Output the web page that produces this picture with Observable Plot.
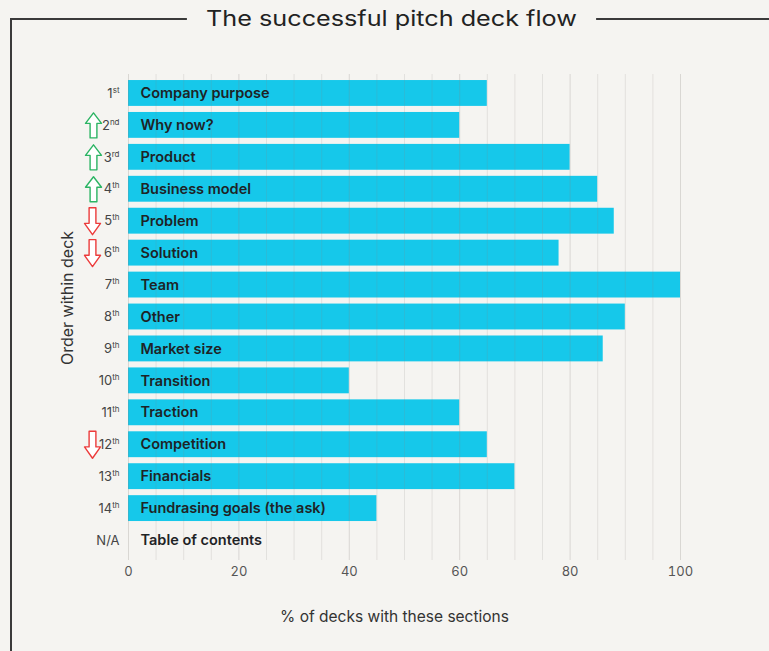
<!DOCTYPE html>
<html><head><meta charset="utf-8">
<script src="https://cdn.jsdelivr.net/npm/d3@7"></script>
<script src="https://cdn.jsdelivr.net/npm/@observablehq/plot@0.6"></script>
<style>
html,body{margin:0;padding:0;background:#f5f4f1;}
#wrap{position:relative;width:769px;height:651px;background:#f5f4f1;overflow:hidden;font-family:Inter,sans-serif;}
#frame{position:absolute;left:10px;top:18px;width:800px;height:700px;border-left:2.5px solid #3a3a3a;border-top:2.5px solid #3a3a3a;}
#title{position:absolute;top:6px;left:0;width:783px;text-align:center;line-height:26px;}
#title span{display:inline-block;transform:scaleX(1.2);background:#f5f4f1;padding:0 16px;font-size:21px;color:#222;}
#chart{position:absolute;left:0;top:0;}
</style>
</head><body>
<div id="wrap">
  <div id="frame"></div>
  <div id="title"><span>The successful pitch deck flow</span></div>
  <div id="chart"></div>
</div>
<script>
const sections = ["Company purpose","Why now?","Product","Business model","Problem","Solution","Team","Other","Market size","Transition","Traction","Competition","Financials","Fundrasing goals (the ask)","Table of contents"];
const orders = ["1st","2nd","3rd","4th","5th","6th","7th","8th","9th","10th","11th","12th","13th","14th","N/A"];
const shares = [65,60,80,85,88,78,100,90,86,40,60,65,70,45,0];
const moves = [null,"up","up","up","down","down",null,null,null,null,null,"down",null,null,null];
const xTicks = [0,20,40,60,80,100];
const minorGrid = [5,10,15,25,30,35,45,50,55,65,70,75,85,90,95];
const majorGrid = [0,20,40,60,80,100];

const rows = sections.map((s,i)=>({section:s, order:orders[i], share:shares[i], move:moves[i]}));

const blockArrow = {
  draw(ctx, l) {
    const w = 3.4, hw = 8, h = l * 0.42;
    ctx.moveTo(-w, 0); ctx.lineTo(w, 0); ctx.lineTo(w, -l + h); ctx.lineTo(hw, -l + h);
    ctx.lineTo(0, -l); ctx.lineTo(-hw, -l + h); ctx.lineTo(-w, -l + h); ctx.closePath();
  }
};

const chart = Plot.plot({
  width: 769, height: 651,
  marginLeft: 128, marginRight: 89, marginTop: 77, marginBottom: 95,
  style: {background: "transparent", fontFamily: "Inter, sans-serif", color: "#444"},
  x: {domain: [0, 100]},
  y: {domain: orders, paddingInner: 0.19, paddingOuter: 0.095, round: false},
  marks: [
    Plot.barX(rows, {y: "order", x: "share", fill: "#16c8ea"}),
    Plot.ruleX(minorGrid, {stroke: "#8a8580", strokeOpacity: 0.17, insetTop: -3, insetBottom: -4}),
    Plot.ruleX(majorGrid, {stroke: "#8a8580", strokeOpacity: 0.26, insetTop: -3, insetBottom: -4}),
    Plot.text(rows, {y: "order", text: "section", frameAnchor: "left", textAnchor: "start", dx: 12, fontSize: 14.5, fontWeight: 600, fill: "#1e2326"}),
    Plot.vector(rows.filter(d => d.move === "up"), {y: "order", frameAnchor: "left", dx: -35, length: 25, rotate: 0, anchor: "middle", shape: blockArrow, stroke: "#2bb463", fill: "white", strokeWidth: 1.4}),
    Plot.vector(rows.filter(d => d.move === "down"), {y: "order", frameAnchor: "left", dx: -36, length: 27, rotate: 180, anchor: "middle", shape: blockArrow, stroke: "#ec3b3b", fill: "white", strokeWidth: 1.4}),
    Plot.axisY({tickSize: 0, tickPadding: 9, fontSize: 13, label: null, color: "#444"}),
    Plot.axisX({ticks: xTicks, tickSize: 0, tickPadding: 10, fontSize: 13, label: null, color: "#555"}),
    Plot.text(["Order within deck"], {text: d => d, frameAnchor: "left", textAnchor: "middle", lineAnchor: "middle", rotate: -90, dx: -61, dy: -19, fontSize: 16, fill: "#333"}),
    Plot.text(["% of decks with these sections"], {text: d => d, frameAnchor: "bottom", textAnchor: "middle", lineAnchor: "middle", dy: 61, dx: -10, fontSize: 15.5, fill: "#333"})
  ]
});

d3.select(chart).selectAll('g[aria-label="y-axis tick label"] text').each(function() {
  const m = this.textContent.match(/^(\d+)(st|nd|rd|th)$/);
  if (m) {
    const el = d3.select(this);
    el.text(m[1]);
    el.append("tspan").attr("font-size", 8).attr("dy", "-5").text(m[2]);
  }
});

document.getElementById("chart").appendChild(chart);
</script>
</body></html>
